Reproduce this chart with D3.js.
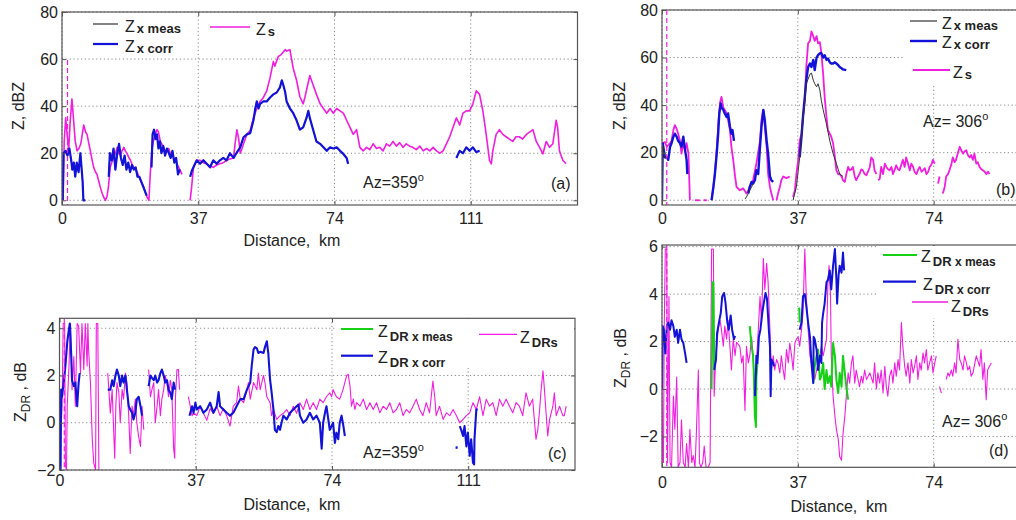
<!DOCTYPE html>
<html><head><meta charset="utf-8">
<script src="https://cdn.jsdelivr.net/npm/d3@7"></script>
<style>
body{margin:0;background:#fff}
svg{display:block;font-family:"Liberation Sans",Arial,Helvetica,sans-serif}
</style>
</head><body>
<svg id="fig" width="1016" height="520"></svg>
<script>
// ---------------- data ----------------
const kmTicksAC = [0, 37, 74, 111];
const kmTicksBD = [0, 37, 74];
const zTicks = [0, 20, 40, 60, 80];
const zdrTicksC = [-2, 0, 2, 4];
const zdrTicksD = [-2, 0, 2, 4, 6];
const markerKm = [1.5, 1.3, 1.3, 1.3];
const azLabels = ["Az=359", "Az= 306", "Az=359", "Az= 306"];
const panelTags = ["(a)", "(b)", "(c)", "(d)"];

// Panel (a): Z_s
const zsA = [
 [[0.3,0],[0.6,25],[1.0,35],[1.4,28],[1.8,21],[2.2,33],[2.7,43],[3.1,35],[3.6,25],[4.1,21],[4.6,22],[5.1,24],[5.5,28],[5.9,32],[6.4,29],[6.8,28],[7.3,24],[7.7,21],[8.2,17],[8.6,14],[9.1,12],[9.5,11],[10.0,8],[10.4,5.6],[10.9,3],[11.3,1.4],[11.8,0],[12.2,1.4],[12.6,5.6],[13.1,14],[13.5,16],[14.0,18],[14.5,20],[15.0,22.5],[15.4,20],[15.9,19],[16.3,21],[16.8,22.5],[17.2,21],[17.7,19.7],[18.2,18],[18.6,17],[19.1,15],[19.5,14],[20.0,13],[20.4,12],[20.9,10],[21.3,8.5],[21.8,7],[22.2,5.6],[22.7,3],[23.1,1.4],[23.6,0],[24.0,12],[24.4,21],[24.8,25],[25.3,28],[25.8,30],[26.2,29],[26.7,25],[27.1,24],[27.6,22.5],[28.0,21],[28.5,21],[29.0,22],[29.4,20],[29.9,19],[30.3,18],[30.8,17],[31.2,15.5],[31.7,14],[32.1,12.7],[32.6,11]],
 [[34.8,0],[35.2,5.6],[35.7,14],[36.1,15.5],[36.6,17],[37.5,17],[38.4,16],[39.3,15.5],[40.2,14.5],[41.1,14],[42.0,15],[42.9,15.5],[43.8,16],[44.7,17],[45.6,17.5],[46.6,18],[47.0,24],[47.5,30],[48.0,26],[48.4,20],[48.9,22],[49.3,24],[50.2,28],[51.1,29.6],[52.0,35],[52.9,39],[53.8,42],[54.7,43.7],[55.6,46.5],[56.5,52],[57.4,59],[57.8,57],[58.7,61],[59.6,62],[60.6,64],[61.0,63.4],[61.9,64],[62.8,56],[63.7,51],[64.6,44],[65.5,41],[66.0,44],[67.3,53],[68.2,49],[69.1,45],[70.1,41],[71.0,39],[71.9,37],[72.8,39],[73.7,37],[74.6,39],[75.5,38],[76.4,37],[77.3,34],[78.2,31],[79.1,28],[80.0,30],[80.9,22.5],[81.8,21],[82.7,22.5],[83.6,21.5],[84.5,24],[85.4,22],[86.3,22.5],[87.2,21],[88.1,24],[89.0,23],[89.9,25],[90.8,23],[91.7,24.5],[92.6,22.5],[93.5,24],[94.4,23],[95.3,22.5],[96.2,21.5],[97.2,23],[98.1,21],[99.0,22],[99.9,21],[100.8,22.5],[101.7,21],[102.6,20],[103.5,21],[104.4,24],[105.3,27],[106.2,31],[107.1,35],[108.0,32],[108.9,37],[109.8,38],[110.7,38],[111.6,41],[112.5,46.5],[113.4,45],[114.3,38],[115.2,28],[116.1,17],[116.6,15.5],[117.0,21],[117.9,28],[118.8,30],[119.7,28],[120.6,27],[121.5,26],[122.4,25],[123.3,27],[124.2,27],[125.1,26],[126.1,28],[127.0,29],[127.9,30],[128.8,25],[129.7,22.5],[130.6,19.7],[131.5,25],[132.4,22.5],[133.3,24],[134.2,34],[134.6,31],[135.1,21],[136.0,17],[136.9,15.5]]
];
// Panel (a): Z_x corr
const zxCorrA = [
 [[0.2,0],[0.4,20],[1.0,21],[1.5,19],[2.0,22],[2.5,17],[2.8,13],[3.2,16],[3.6,10],[4.0,16],[4.5,12],[5.0,20],[5.3,14],[5.6,8],[5.8,0],[6.3,0]],
 [[12.7,10],[13.0,20],[13.5,17],[14.0,22],[14.5,13],[15.0,20],[15.5,24],[16.0,18],[16.5,15],[17.0,19],[17.5,13],[18.0,16],[18.5,12],[19.0,15],[19.5,13],[20.0,14],[20.5,10],[21.0,10],[21.5,8],[22.0,6],[22.5,4],[23.0,2]],
 [[24.3,14],[24.6,28],[25.0,30],[25.4,26],[25.8,28],[26.2,22],[26.6,25],[27.0,20],[27.5,23],[28.0,19],[28.5,22],[29.0,20],[29.5,18],[30.0,21],[30.5,16],[31.0,18],[31.5,11],[32.0,13]],
 [[34.8,10],[35.3,12.7],[35.7,14],[36.6,17],[37.5,15.5],[38.4,17],[39.3,15.5],[40.2,14],[41.1,17],[42.0,15.5],[42.9,17],[43.8,18],[44.7,17],[45.6,20],[46.6,18],[47.5,20.4],[48.4,22.5],[49.3,26.8],[50.2,28],[51.1,28.5],[52.0,34],[52.5,39],[52.9,42],[53.4,39],[53.8,41],[54.7,42],[55.6,42],[56.5,43.7],[57.4,45],[58.3,45.8],[59.2,48],[59.7,51],[60.1,49],[60.6,46],[61.0,42],[61.9,39],[62.8,37],[63.7,34],[64.6,30],[65.5,31],[66.4,35],[66.9,38],[67.3,35],[68.2,30],[69.1,25],[70.1,24],[71.0,22.5],[71.9,21],[72.8,22.5],[73.7,22],[74.6,22.5],[75.5,21],[76.4,19.7],[77.3,18],[77.7,15.5]],
 [[107.1,18],[108.0,21],[108.9,20],[109.8,22.5],[110.7,21],[111.6,22.5],[112.5,20.5],[113.4,21]]
];
// Panel (a): Z_x meas lies under Z_x corr at this azimuth
const zxMeasA = zxCorrA;

// Panel (b): Z_s
const zsB = [
 [[0.2,24],[0.8,24.5],[1.3,22.5],[2.2,24],[2.6,25],[3.1,29.5],[3.5,31.6],[4.0,30],[4.4,28],[4.9,25],[5.3,19.6],[5.8,24],[6.3,21],[6.7,24],[7.2,19.6],[7.4,10],[7.6,0]],
 [[9.0,0],[10.3,0]],
 [[11.3,0],[12.2,0]],
 [[13.5,0],[14.0,5.6],[14.4,11],[14.9,21],[15.3,31],[15.8,41],[16.2,43.5],[16.7,39],[17.1,38],[17.6,36.5],[18.0,33.7],[18.5,29.5],[18.9,22.5],[19.4,17],[19.9,10],[20.3,5.6],[21.2,4.2],[22.1,5],[23.0,2.8],[23.5,4],[23.9,5.6],[24.8,8.4],[25.7,15.4],[26.7,25],[27.1,33.7],[27.6,38],[28.0,31],[28.5,22.5],[28.9,11],[29.4,5.6],[29.8,2.8],[30.3,0]],
 [[31.2,0],[31.6,2.8],[32.1,5.6],[32.5,8.4],[33.0,10],[33.9,9.3],[34.8,10]],
 [[35.7,1.4],[36.2,4.2],[36.6,11],[37.1,17],[37.5,25],[38.0,28],[38.4,35],[38.9,42],[39.3,56],[39.8,66],[40.3,67],[40.7,71],[41.2,69],[41.6,67],[42.1,69],[42.5,66],[43.0,66.5],[43.4,62],[43.9,53],[44.3,43.5],[44.8,35],[45.2,29.5],[45.7,28],[46.1,26.7],[46.6,24],[47.1,18],[47.5,12.6],[48.0,11],[48.4,11],[48.9,10],[49.3,8.4],[49.8,7.7],[50.2,11],[50.7,14],[51.1,12.6],[51.6,13],[52.0,14],[52.5,10],[52.9,8.4],[53.4,10],[53.8,11],[54.3,13],[54.7,12.6],[55.2,11],[55.7,10.5],[56.1,12],[56.6,14],[57.0,18],[57.5,17],[57.9,12.6],[58.4,11]],
 [[58.9,8.4],[59.3,9],[59.7,14],[60.2,11],[60.7,15.4],[61.1,14],[61.6,13],[62.0,12.6],[62.5,14],[62.9,11],[63.4,13],[63.8,14.7],[64.3,13],[64.7,12.6],[65.2,15],[65.6,17],[66.1,14],[66.5,18],[67.0,15.4],[67.5,12.6],[67.9,15.4],[68.4,14],[68.8,12],[69.3,11],[69.8,13],[70.2,14],[70.7,12],[71.1,12.6],[71.6,13.5],[72.0,11],[72.5,12],[72.9,14],[73.4,15],[73.8,17],[74.3,15.4]],
 [[75.2,7],[75.6,10]],
 [[76.5,2.8],[77.0,5.6],[77.4,10],[77.9,11],[78.3,12.6],[78.8,15],[79.2,18],[79.7,16],[80.1,17],[80.6,20],[81.1,22.5],[81.5,21],[82.0,19.6],[82.4,20.5],[82.9,21],[83.3,19],[83.8,18],[84.2,19],[84.7,17],[85.1,19.6],[85.6,15.4],[86.0,16],[86.5,14],[87.0,13],[87.4,12.6],[87.9,12],[88.3,11],[88.8,12],[89.2,11]]
];
// Panel (b): Z_x corr
const zxCorrB = [
 [[0,0],[0.2,24],[0.8,18],[1.3,18],[1.7,17],[2.2,22.5],[2.6,24],[3.1,26.7],[3.5,28],[4.0,26.7],[4.4,25],[4.9,24],[5.3,22.5],[5.8,26.7],[6.3,21],[6.7,17],[6.9,11]],
 [[13.5,0],[14.0,5.6],[14.4,11],[14.9,19.6],[15.3,28],[15.6,36.5],[16.0,40.7],[16.2,39],[16.7,38],[17.1,36.5],[17.6,35],[18.0,36.5],[18.5,31],[18.9,28],[19.2,29.5],[19.6,25]],
 [[23.5,2.8],[23.9,5.6],[24.4,7.7],[24.8,7],[25.3,8.4],[25.7,12.6],[26.2,11],[26.7,22.5],[27.1,31],[27.6,38],[28.0,33.7],[28.5,25],[28.9,19.6],[29.4,10],[29.8,8.4],[30.3,7.7]],
 [[37.5,18],[38.0,26.7],[38.4,35],[38.9,43.5],[39.3,50.5],[39.8,56],[40.3,57.5],[40.7,56],[41.2,59],[41.6,54.7],[42.1,60],[42.5,61],[43.0,61.8],[43.4,61.8],[43.9,60],[44.3,61],[44.8,59],[45.2,59.6],[45.7,58],[46.1,57.5],[46.6,57.5],[47.1,58],[47.5,57.5],[48.0,56.8],[48.4,56],[48.9,55.5],[49.3,55],[50.2,54.7]]
];
// Panel (b): Z_x meas (visible parts)
const zxMeasB = [
 [[0,0],[0.2,23],[0.8,18],[1.3,18]],
 [[22.6,0.5],[23.0,1.4],[23.5,2.8],[23.9,4.2],[24.4,5.6],[24.8,7]],
 [[35.7,0],[36.6,5.6],[37.5,18],[38.4,33.7],[39.3,49],[40.3,53],[40.7,53.5],[41.2,50.5],[41.6,49],[42.1,47.7],[42.5,49],[43.0,46.3],[43.4,42],[43.9,38],[44.8,32],[45.7,25],[46.6,19.6],[47.5,15.4],[48.4,11],[49.3,10]]
];

// Panel (c): Z_DRs
const zdrsC = [
 [[0.5,0],[0.7,0.7],[1.0,4.2],[1.4,4.2],[1.6,-1.8],[1.9,-2],[2.1,0.7],[2.5,2.1],[3.0,4.2],[3.4,1.4],[3.9,2.8],[4.3,0.7],[4.8,4.2],[5.2,4.1],[5.7,2.1],[6.1,4.2],[6.6,2.25],[7.0,4.2],[7.5,2.4],[7.7,4.2],[7.9,3.1],[8.4,1.7],[8.9,-0.7],[9.3,-1.7],[9.8,-2],[10.0,4.2],[10.4,4.2],[10.7,-2]],
 [[13.1,2.1],[13.4,1.4],[13.8,0.4],[14.3,1.4],[14.7,-0.3],[15.0,-1.5],[15.3,0.7],[15.6,1.7],[16.1,1.3],[16.5,0],[17.0,1.4],[17.4,1],[17.9,2.1],[18.3,1.7],[18.8,0.3],[19.2,-1.3],[19.7,0.7],[20.1,0.3],[20.6,1],[21.0,0],[21.5,-0.6],[22.0,-1],[22.4,0.7],[22.9,-0.3]],
 [[24.2,2.25],[24.7,1.1],[25.1,1.4],[25.6,1.7],[26.0,0],[26.5,0.7],[26.9,1.4],[27.4,0.3],[27.8,1],[28.3,1.4],[28.7,2],[29.2,1.7],[29.6,1.1],[30.1,1.8],[30.5,1.4],[31.0,-1.1],[31.3,-1.5],[31.5,1.1],[31.9,2.25],[32.3,2.25],[32.6,1.4]],
 [[35.0,1.1],[35.5,0.7],[36.0,0.3],[36.4,0.4],[37.3,0.3],[38.2,0.7],[39.1,0.4],[40.0,0.1],[40.9,0.6],[41.8,0.4],[42.7,0.7],[43.6,0.3],[44.5,0.6],[45.4,0.3],[46.3,-0.14],[47.2,0.7],[48.1,0.85],[48.6,1.55],[49.1,1],[50.0,0.85],[50.9,1.4],[51.3,1.7],[51.8,1],[52.7,1.7],[53.6,1.4],[54.0,2.1],[54.5,1.4],[55.4,2],[55.8,1.7],[56.3,1.1],[57.2,0.85],[57.6,0.3],[58.1,0.56],[59.0,0.14],[59.9,0.3],[60.8,0.4],[61.7,0.56],[62.6,0.3],[63.5,0.7],[64.4,0.4],[65.3,0.85],[66.2,0.56],[67.1,1],[68.0,0.56],[68.9,0.85],[69.8,0.56],[70.7,1],[71.6,0.85],[72.5,1.1],[73.4,1.27],[73.9,1.1],[74.3,1.4],[75.2,1.1],[76.1,1],[77.0,1.4],[78.0,2],[78.4,2.05],[78.9,1.55],[79.3,0.7],[79.8,1],[80.2,0.56],[80.7,0.85],[81.6,0.7],[82.5,1],[83.4,0.56],[84.3,0.85],[85.2,0.56],[86.1,0.85],[87.0,0.42],[87.9,0.7],[88.8,0.56],[89.7,0.85],[90.6,0.42],[91.5,0.56],[92.4,0.85],[93.3,0.3],[94.2,0.56],[95.1,0.42],[96.0,0.7],[96.9,1],[97.8,0.56],[98.7,0.3],[99.6,0.85],[100.5,0.42],[101.4,1.76],[101.9,1.1],[102.3,0.3],[103.2,0.7],[104.2,0.14],[105.1,0.42],[106.0,0.3],[106.9,0.56],[107.8,0.3],[108.7,0],[109.6,0.14],[110.5,0.3],[111.4,0.42],[112.3,0.85],[113.2,0.56],[114.1,1.1],[115.0,0.3],[115.9,1],[116.8,0.7],[117.7,0.85],[118.6,0.3],[119.5,1],[120.4,0.7],[121.3,1],[122.2,0.7],[123.1,0.42],[124.0,0.85],[124.9,0.7],[125.8,0.3],[126.7,1.27],[127.6,0.7],[128.5,1],[129.4,-0.7],[129.9,-0.3],[130.4,0.56],[130.8,1.4],[131.3,2.2],[131.7,1.4],[132.2,0.3],[132.6,-0.56],[133.1,0.14],[134.0,0.7],[134.4,1.27],[134.9,0.3],[135.8,0.7],[136.7,0.3],[137.1,0.3],[137.6,0.7]]
];
// Panel (c): Z_DR x corr
const zdrCorrC = [
 [[0.3,-2],[0.45,1.4],[0.7,1.1],[1.2,1.8],[1.6,2.4],[2.1,3.4],[2.5,3.9],[2.8,4.2],[3.2,2.8],[3.4,1.8],[3.9,1.55],[4.3,1.7],[4.8,0.7],[5.2,1.7],[5.5,2.1]],
 [[13.1,1.4],[13.8,1.4],[14.3,1.8],[14.7,1.55],[15.2,2],[15.6,2.25],[16.1,2],[16.5,1.55],[17.0,2],[17.4,1.7],[17.9,2],[18.3,1.4],[18.8,0.7],[19.2,0.56],[19.7,0.42],[20.1,0.14],[20.6,0.42],[21.0,1],[21.5,1.1],[22.0,0.7],[22.4,0.3]],
 [[24.2,1.55],[24.7,2],[25.1,1.9],[25.6,1.8],[26.0,2],[26.5,1.7],[26.9,1.8],[27.4,2.1],[27.8,2.25],[28.3,2],[28.7,1.7],[29.2,1.8],[29.6,1.4],[30.1,1.27],[30.5,1],[31.0,1.7],[31.4,1.4]],
 [[35.3,0.3],[36.0,0.7],[36.4,0.42],[36.9,0.85],[37.3,0.56],[38.2,0.7],[39.1,0.42],[40.0,0.56],[40.9,0.85],[41.8,0.42],[42.7,0.7],[43.2,1.3],[43.6,0.7],[44.5,0.56],[45.4,0.42],[46.3,0.3],[47.2,0.42],[48.1,0.7],[49.1,1],[50.0,1],[50.9,1.4],[51.8,1.7],[52.2,2.4],[52.7,3.1],[53.1,3.2],[53.6,3.15],[54.0,2.95],[54.5,3.0],[55.4,2.95],[55.8,3.2],[56.3,3.45],[56.7,2.95],[57.2,1.8],[57.6,1.3],[58.1,0.56],[58.5,-0.3],[59.0,-0.4],[59.4,-0.14],[59.9,-0.3],[60.3,0],[60.8,0.3],[61.7,0.14],[62.6,0.42],[63.5,0.56],[64.4,0.7],[64.9,0.77],[65.3,0.3],[66.2,0],[67.1,0.14],[68.0,0.42],[68.9,0.14],[69.8,0.3],[70.7,0],[71.2,-1.1],[71.6,0],[72.1,0.42],[72.5,0.7],[73.0,0.14],[73.4,-0.3],[74.3,0],[74.8,-0.85],[75.2,-0.42],[75.7,-0.7],[76.1,0],[76.6,0.3],[77.1,-0.14],[77.5,-0.56]],
 [[107.8,-1.1],[107.9,-1.0]],
 [[108.7,-0.14],[109.1,-0.3],[109.6,-0.56],[110.0,-0.14],[110.5,-1],[110.9,-0.42],[111.4,-1.4],[111.8,-0.7],[112.3,-1.7],[112.6,-1.76],[112.7,-0.7],[113.2,0.56],[113.6,0.56]]
];

// Panel (d): Z_DRs
const zdrsD = [
 [[0,0],[0.2,-3.1],[0.4,-3.1],[0.6,2.5],[0.9,5.9],[1.3,5.9],[1.5,-3.1],[1.9,3.9],[2.2,-3.1],[2.6,-3.3],[3.1,-0.3],[3.5,-1.7],[4.0,0.5],[4.4,-3.3],[4.9,-3.1],[5.3,-1.3],[5.8,-3.1],[6.3,-3.3],[6.7,-2.3],[7.2,-3.3],[7.6,-1.7],[8.1,-3.1],[8.5,-2.8],[9.0,-3.3],[9.4,-1.7],[9.9,0.8],[10.2,-3.1],[10.6,-3.3],[11.1,-3.1],[11.5,-2.4],[12.0,-3.3],[12.6,-3.3],[13.1,-3.1],[13.5,5.9],[14.0,5.9],[14.2,-0.3],[14.5,0.8],[14.9,1.8],[15.3,2.5],[15.8,2.9],[16.2,2.5],[16.7,1.8],[17.1,2.65],[17.6,2.1],[18.0,2.9],[18.5,1.8],[18.9,0.8],[19.4,2.1],[19.9,1.4],[20.3,1.97],[21.2,1.8],[21.7,1.1],[22.1,1.4],[22.6,-0.9],[23.0,1.8],[23.5,1.1],[23.9,1.4],[24.4,2.2],[24.8,1.4],[25.3,0],[25.7,1.1],[26.2,2.4],[26.7,3.9],[27.1,2.8],[27.6,5.5],[28.0,4.2],[28.5,5.3],[28.9,4.5],[29.4,2.5],[29.8,0.8],[30.3,1.4],[30.7,0.8],[31.2,1.24],[31.6,1.1],[32.1,0.68],[32.5,1.4],[33.0,0.8],[33.4,0.4],[33.9,1.66],[34.4,1.1],[34.8,1.94],[35.3,1.4],[35.7,0.8],[36.2,1.94],[36.6,2.1],[37.1,2.2],[37.5,1.8],[38.0,2.5],[38.4,3.2],[38.9,5.9],[39.3,3.9],[39.8,2.5],[40.3,1.4],[40.7,1.1],[41.2,0.8],[41.6,0.4],[42.1,0.8],[42.5,1.1],[43.0,1.4],[43.4,1.8],[43.9,1.4],[44.8,2.1],[45.2,4.5],[45.5,5.2],[45.9,3.9],[46.1,1.4],[46.6,-0.3],[47.1,-1.15],[47.5,-1.7],[48.0,-2.1],[48.4,-2.85],[48.9,-3],[49.3,-1.9],[49.8,-1.15],[50.2,-0.3],[50.7,0.68],[51.1,0.25],[51.6,1.1],[52.0,1.4],[52.5,0.25],[52.9,0.8],[53.4,0.4],[53.8,0.1],[54.3,0.54],[54.7,0.25],[55.2,0.8],[55.7,0.4],[56.6,0.68],[57.5,0.25],[57.9,1.1],[58.4,0],[58.8,0.68],[59.3,0.25],[59.7,0.8],[60.2,-0.17],[60.7,0.96],[61.1,0.1],[61.5,-0.3],[62.0,0.54],[62.5,0.8],[62.9,0.25],[63.4,1.1],[63.8,0.54],[64.3,1.24],[64.7,0.8],[65.2,2.8],[65.6,1.8],[66.1,0.96],[66.5,0.54],[67.0,1.1],[67.5,0.25],[67.9,1.24],[68.4,0.68],[68.8,0.96],[69.3,1.4],[69.7,0.4],[70.2,1.1],[70.6,0.8],[71.1,1.52],[71.5,1.1],[72.0,1.66],[72.4,0.8],[72.9,1.1],[73.4,1.4],[73.8,0.68],[74.3,1.1],[74.7,1.4]],
 [[75.6,0.1],[76.1,-0.17]],
 [[77.4,0.4],[77.9,0.68],[78.3,0.54],[78.8,0.8],[79.2,0.54],[79.7,1.1],[80.1,0.68],[80.6,2.1],[81.1,1.24],[81.5,1.1],[82.0,0.8],[82.4,1.4],[82.9,1.1],[83.3,0.8],[83.8,0.96],[84.2,0.54],[84.7,0.68],[85.6,1.4],[86.5,0.96],[86.9,1.66],[87.4,0.4],[87.8,1.1],[88.3,-0.45],[88.7,0.8],[89.2,0.96],[89.7,1.1]]
];
// Panel (d): Z_DR x corr
const zdrCorrD = [
 [[0,0],[0.2,2.65],[0.5,2.5],[0.9,1.5],[1.3,2.65],[1.7,2.8],[2.2,2.5],[2.6,2.9],[3.1,2.65],[3.5,2.2],[4.0,2.5],[4.4,1.94],[4.9,2.5],[5.3,2.1],[5.8,1.94],[6.3,1.5],[6.7,1.1]],
 [[14.2,0.8],[14.7,1.24],[15.0,2.35],[15.5,2.8],[16.0,3.2],[16.4,3.9],[16.9,4.05],[17.3,3.63],[17.8,2.8],[18.2,2.5],[18.7,3.1],[19.1,2.5],[19.6,2.1],[19.9,2.24]],
 [[25.3,-0.3],[25.6,0.8],[25.7,1.4],[26.0,1.1],[26.4,2.2],[26.8,2.5],[27.3,3.2],[27.7,3.6],[28.2,4.05],[28.6,3.8],[29.1,2.5],[29.4,1.8],[29.6,-0.3],[29.8,1.24],[30.3,1.1],[30.5,0.96]],
 [[37.5,2.5],[38.0,2.8],[38.4,3.9],[38.9,4.0],[39.3,3.5],[39.8,2.8],[40.3,2.2],[40.7,1.1],[41.2,0.25],[41.3,2.2],[41.6,2.1],[42.1,1.66],[42.5,0.8],[43.0,1.4],[43.4,1.1],[43.6,2.8],[43.9,3.2],[44.3,3.6],[44.8,4.5],[45.2,4.6],[45.7,5.0],[46.1,4.2],[46.6,5.2],[47.1,5.9],[47.5,4.6],[47.7,3.6],[48.1,4.8],[48.4,5.2],[48.9,4.9],[49.3,5.75],[49.6,5.0]]
];
// Panel (d): Z_DR x meas (visible parts)
const zdrMeasD = [
 [[13.5,0],[13.8,4.5],[14.0,4.5],[14.2,1],[14.5,0.8]],
 [[23.9,2.65],[24.4,1.8],[24.8,1.4],[25.0,0.68],[25.3,-1.15],[25.6,-1.6],[25.7,0.5],[26.0,1.1]],
 [[37.1,3.35],[37.4,3.4],[37.5,2.8]],
 [[41.2,0.25],[41.6,0.96],[42.1,1.4],[42.5,1.66],[43.0,0.4],[43.4,0.54],[43.9,1.1],[44.3,0],[44.8,0.8],[45.2,0.25],[45.7,0.54],[46.1,0.1],[46.6,1.94],[47.1,1.4],[47.5,0.4],[48.0,-0.17],[48.4,0.68],[48.9,0.1],[49.3,1.4],[49.8,0.68],[50.2,0.1],[50.7,-0.45]]
];

// ---------------- drawing ----------------
const MAG = "#f01ee0", BLU = "#1212d8", GRN = "#16d016", BLK = "#333";
const FONT_TXT = "#222";
const svg = d3.select("#fig");
const defs = svg.append("defs");

const panels = [
 {left:62, right:577.5, top:12, bottom:205, xMax:140, yDom:[-2,80], yTicks:zTicks, xTicks:kmTicksAC, xPad:8,
  series:[{d:zsA,c:MAG,w:1.6},{d:zxMeasA,c:BLK,w:1},{d:zxCorrA,c:BLU,w:2.2}]},
 {left:662, right:1024, top:10, bottom:205, xMax:98.6, yDom:[-2,80], yTicks:zTicks, xTicks:kmTicksBD, xPad:8,
  series:[{d:zsB,c:MAG,w:1.8},{d:zxCorrB,c:BLU,w:2.4},{d:zxMeasB,c:BLK,w:1}]},
 {left:59.5, right:575, top:318.3, bottom:470, xMax:140, yDom:[-2,4.42], yTicks:zdrTicksC, xTicks:kmTicksAC, xPad:5,
  series:[{d:zdrsC,c:MAG,w:1.1},{d:zdrCorrC,c:BLU,w:2.1}]},
 {left:662, right:1024, top:245, bottom:467.3, xMax:98.6, yDom:[-3.3,6.07], yTicks:zdrTicksD, xTicks:kmTicksBD, xPad:9,
  series:[{d:zdrsD,c:MAG,w:1.1},{d:zdrMeasD,c:GRN,w:2},{d:zdrCorrD,c:BLU,w:2}]}
];

panels.forEach((p, i) => {
  const x = d3.scaleLinear().domain([0, p.xMax]).range([p.left, p.right]);
  const y = d3.scaleLinear().domain(p.yDom).range([p.bottom, p.top]);
  const g = svg.append("g");
  const cid = "clip" + i;
  defs.append("clipPath").attr("id", cid).append("rect")
    .attr("x", p.left).attr("y", p.top).attr("width", p.right - p.left).attr("height", p.bottom - p.top);

  g.append("rect").attr("x", p.left).attr("y", p.top).attr("width", p.right - p.left).attr("height", p.bottom - p.top).attr("fill", "#fff");

  // grid
  const grid = g.append("g").attr("stroke", "#8a8a8a").attr("stroke-width", 1).attr("stroke-dasharray", "1.2,2.6");
  p.xTicks.forEach(t => grid.append("line").attr("x1", x(t)).attr("x2", x(t)).attr("y1", p.top).attr("y2", p.bottom));
  p.yTicks.forEach(t => grid.append("line").attr("x1", p.left).attr("x2", p.right).attr("y1", y(t)).attr("y2", y(t)));

  // data
  const line = d3.line().x(d => x(d[0])).y(d => y(d[1]));
  const dg = g.append("g").attr("clip-path", `url(#${cid})`);
  p.series.forEach(s => {
    s.d.forEach(seg => {
      dg.append("path").attr("d", line(seg)).attr("fill", "none").attr("stroke", s.c)
        .attr("stroke-width", s.w).attr("stroke-linejoin", "round");
    });
  });
  // marker dashed line
  dg.append("line").attr("x1", x(markerKm[i])).attr("x2", x(markerKm[i])).attr("y1", p.top).attr("y2", p.bottom)
    .attr("stroke", MAG).attr("stroke-width", 1.2).attr("stroke-dasharray", "5,3");

  // box
  g.append("rect").attr("x", p.left).attr("y", p.top).attr("width", p.right - p.left).attr("height", p.bottom - p.top)
    .attr("fill", "none").attr("stroke", "#555").attr("stroke-width", 1.2);

  // axes
  const fmt = d3.format("d");
  const ax = g.append("g").attr("transform", `translate(0,${p.bottom})`)
    .call(d3.axisBottom(x).tickValues(p.xTicks).tickSize(-4).tickPadding(p.xPad).tickFormat(fmt));
  const ay = g.append("g").attr("transform", `translate(${p.left},0)`)
    .call(d3.axisLeft(y).tickValues(p.yTicks).tickSize(-4).tickPadding(4).tickFormat(fmt));
  const at = g.append("g").attr("transform", `translate(0,${p.top})`)
    .call(d3.axisTop(x).tickValues(p.xTicks).tickSize(-4).tickFormat(""));
  const ar = g.append("g").attr("transform", `translate(${p.right},0)`)
    .call(d3.axisRight(y).tickValues(p.yTicks).tickSize(-4).tickFormat(""));
  [ax, ay, at, ar].forEach(a => {
    a.select(".domain").remove();
    a.selectAll("line").attr("stroke", "#555");
    a.selectAll("text").attr("font-size", 16).attr("fill", FONT_TXT).attr("font-family", null);
  });
});

// ---------- texts ----------
function txt(xp, yp, s, size, opts = {}) {
  const t = svg.append("text").attr("x", xp).attr("y", yp).attr("font-size", size).attr("fill", FONT_TXT)
    .attr("xml:space", "preserve");
  if (opts.anchor) t.attr("text-anchor", opts.anchor);
  if (opts.rotate) t.attr("transform", `rotate(-90,${xp},${yp})`);
  t.text(s);
  return t;
}

// y labels
txt(24, 106, "Z, dBZ", 16, {anchor: "middle", rotate: true});
txt(625, 106, "Z, dBZ", 16, {anchor: "middle", rotate: true});
function zdrYLabel(xp, yp) {
  const t = svg.append("text").attr("x", xp).attr("y", yp).attr("font-size", 16).attr("fill", FONT_TXT)
    .attr("text-anchor", "middle").attr("transform", `rotate(-90,${xp},${yp})`).attr("xml:space", "preserve");
  t.append("tspan").text("Z");
  t.append("tspan").attr("font-size", 12).attr("dy", 4).text("DR");
  t.append("tspan").attr("dy", -4).text(" , dB");
}
zdrYLabel(26, 392);
zdrYLabel(626, 358);

// x labels
txt(292, 246, "Distance,  km", 16, {anchor: "middle"});
txt(292, 510, "Distance,  km", 16, {anchor: "middle"});
txt(839, 512, "Distance,  km", 16, {anchor: "middle"});

// Az labels and panel tags
function azLabel(xp, yp, s) {
  const t = svg.append("text").attr("x", xp).attr("y", yp).attr("font-size", 16).attr("fill", FONT_TXT).attr("xml:space", "preserve");
  t.append("tspan").text(s);
  t.append("tspan").attr("font-size", 11).attr("dy", -7).text("o");
}
azLabel(363, 188, azLabels[0]);
azLabel(923, 127, azLabels[1]);
azLabel(363, 458, azLabels[2]);
azLabel(942, 427, azLabels[3]);
txt(551, 189, panelTags[0], 16);
txt(996, 195, panelTags[1], 16);
txt(548, 459, panelTags[2], 16);
txt(989, 456, panelTags[3], 16);

// ---------- legends ----------
function legendBox(x0, y0, w, h) {
  svg.append("rect").attr("x", x0).attr("y", y0).attr("width", w).attr("height", h).attr("fill", "#fff");
}
function legItem(x1, x2, yl, color, w, tx, ty, sub, sub2, subShift) {
  svg.append("line").attr("x1", x1).attr("x2", x2).attr("y1", yl).attr("y2", yl).attr("stroke", color).attr("stroke-width", w);
  const t = svg.append("text").attr("x", tx).attr("y", ty).attr("font-size", 16).attr("fill", FONT_TXT).attr("xml:space", "preserve");
  t.append("tspan").text("Z");
  const s1 = t.append("tspan").attr("dx", 2).attr("dy", subShift).attr("font-size", 13).attr("font-weight", "bold").text(sub);
  if (sub2) t.append("tspan").attr("font-size", 12).attr("font-weight", "bold").text(sub2);
}
// (a)
legendBox(64, 13, 118, 45);
legendBox(205, 13, 88, 29);
legItem(93, 118, 24, BLK, 1.2, 125, 31.5, "x meas", null, 1);
legItem(93, 118, 44, BLU, 2.2, 125, 51.5, "x corr", null, 1);
legItem(210, 250, 27, MAG, 1.6, 256, 35, "s", null, 1);
// (b)
legendBox(905, 11, 120, 75);
legItem(910, 937, 21, BLK, 1.2, 942, 28.5, "x meas", null, 1);
legItem(910, 937, 41, BLU, 2.4, 942, 47.5, "x corr", null, 1);
legItem(913, 950, 70, MAG, 1.8, 953, 78, "s", null, 1);
// (c)
legendBox(336, 319, 238, 49);
legItem(341, 373, 329, GRN, 2, 378, 336.5, "DR", " x meas", 4);
legItem(341, 373, 355.7, BLU, 2.2, 378, 363, "DR", " x corr", 4);
legItem(479, 517, 334.3, MAG, 1.3, 520, 343, "DRs", null, 4);
// (d)
legendBox(877, 246, 148, 72);
legItem(883, 917, 255, GRN, 2, 921, 261.7, "DR", " x meas", 4);
legItem(883, 916, 281.7, BLU, 2.2, 923, 290, "DR", " x corr", 4);
legItem(912, 948, 302, MAG, 1.3, 951, 311.5, "DRs", null, 4);
</script>
</body></html>
